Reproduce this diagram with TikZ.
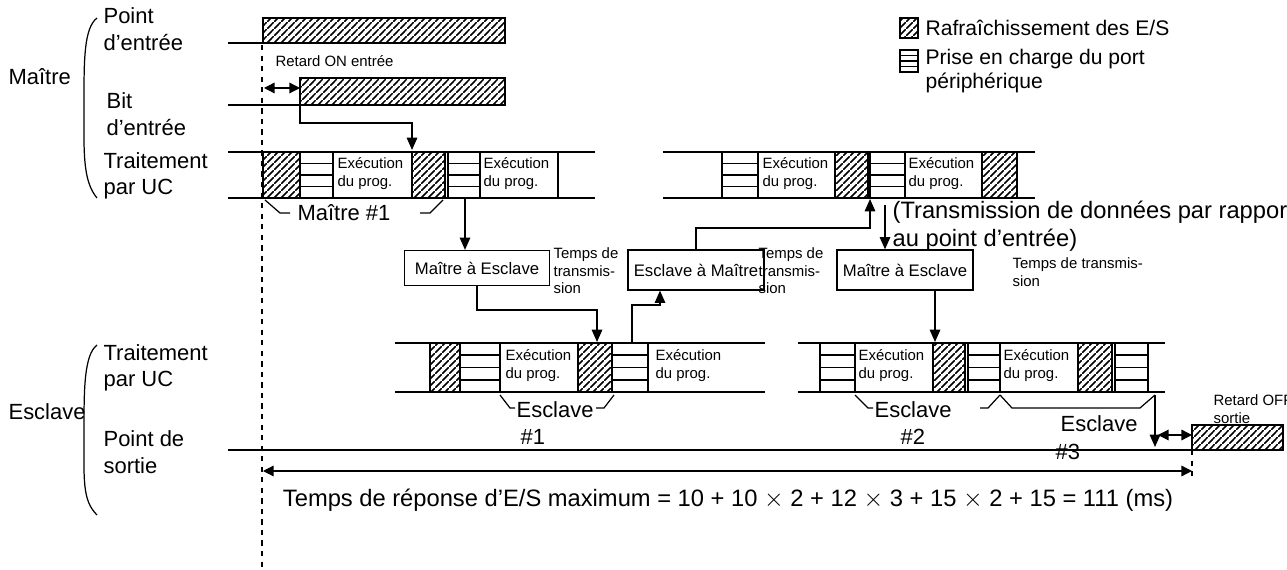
\documentclass[tikz,border=0pt]{standalone}
\usepackage{fontspec}
\setmainfont{Liberation Sans}
\usetikzlibrary{arrows.meta,patterns.meta}
\tikzdeclarepattern{name=thickhatch,type=uncolored,bounding box={(0,0) and (4pt,4pt)},tile size={(4pt,4pt)},
  code={\draw[line width=1pt] (-1pt,-1pt) -- (5pt,5pt);}}
\tikzset{
    hatch/.style = {draw, line width=0.9pt, pattern=thickhatch},
    port/.style = {draw, line width=0.9pt},
    box/.style = {draw, rectangle, align=center, font=\fontsize{9.5}{11}\selectfont},
    lbl/.style = {align=left, anchor=west, font=\fontsize{12.5}{15}\selectfont, inner sep=0pt},
    big/.style = {lbl, font=\fontsize{13.5}{16}\selectfont},
    legend/.style = {lbl, font=\fontsize{12}{14}\selectfont},
    small/.style = {align=left, anchor=north west, font=\fontsize{8.5}{10}\selectfont, inner sep=0pt},
    arrow/.style = {draw, -{Triangle[length=7pt,width=6pt]}},
    dbl/.style = {draw, {Triangle[length=6pt,width=6pt]}-{Triangle[length=6pt,width=6pt]}}
}
% hatched slot
\newcommand{\refresh}[4]{\draw[hatch] (#1,#3) rectangle (#2,#4);}
% peripheral port slot
\newcommand{\pport}[4]{\draw[port] (#1,#3) rectangle (#2,#4);
  \foreach \k in {1,2,3} \draw[port] (#1,{#3+\k*(#4-#3)/4}) -- (#2,{#3+\k*(#4-#3)/4});}
\begin{document}
\begin{tikzpicture}[x=0.02cm,y=-0.02cm,line width=0.7pt]
    \useasboundingbox (0,0) rectangle (1287,570);
    % left labels
    \node[lbl] (master) at (8,77) {Maître};
    \node[lbl] (slave) at (8,412) {Esclave};
    \draw (97,18) .. controls (84,28) and (84,60) .. (84,100) .. controls (84,150) and (82,180) .. (97,198);
    \draw (97,345) .. controls (84,355) and (84,390) .. (84,430) .. controls (84,480) and (82,500) .. (97,515);
    \node[lbl] (inpt) at (103,29) {Point\\d'entrée};
    \node[lbl] (ibit) at (106,114) {Bit\\d'entrée};
    \node[lbl] (mcpu) at (103,176) {Traitement\\par UC};
    \node[lbl] (scpu) at (103,368) {Traitement\\par UC};
    \node[lbl] (outp) at (103,452) {Point de\\sortie};
    % legend
    \refresh{900}{918}{18}{38}
    \node[legend] (lg1) at (925,28) {Rafraîchissement des E/S};
    \pport{900}{918}{50}{72}
    \node[legend] (lg2) at (925,71) {Prise en charge du port\\périphérique};
    % input point and input bit
    \draw (228,43) -- (263,43);
    \refresh{263}{505}{18}{43}
    \draw (228,105) -- (300,105);
    \refresh{300}{505}{78}{105}
    \draw[dashed] (262,45) -- (262,570);
    \draw[dbl] (264,88) -- (300,88);
    \node[small] (ondly) at (275,55) {Retard ON entrée};
    \coordinate (bitc) at (300,105);
    % master CPU 1
    \draw (228,152) -- (595,152) (228,198) -- (595,198);
    \refresh{263}{300}{152}{198} \pport{300}{333}{152}{198}
    \refresh{412}{445}{152}{198} \pport{448}{480}{152}{198}
    \draw (558,152) -- (558,198);
    \node[small] (ex1) at (337,157) {Exécution\\du prog.};
    \node[small] (ex2) at (483,157) {Exécution\\du prog.};
    \draw[arrow] (bitc) |- (412,123) -- (412,150);
    \draw (265,200) -- (280,213) -- (290,213) (420,213) -- (430,213) -- (443,200);
    \node[lbl] (m1) at (297,213) {Maître \#1};
    % master CPU 2
    \draw (663,152) -- (1035,152) (663,198) -- (1035,198);
    \pport{722}{758}{152}{198} \refresh{835}{868}{152}{198}
    \pport{870}{905}{152}{198} \refresh{982}{1017}{152}{198}
    \node[small] (ex3) at (762,157) {Exécution\\du prog.};
    \node[small] (ex4) at (908,157) {Exécution\\du prog.};
    % transmission boxes
    \node[box, minimum width=2.9cm, minimum height=0.7cm] (ms1) at (477,268) {Maître à Esclave};
    \node[small] (tt1) at (553,247) {Temps de\\transmis-\\sion};
    \node[box, minimum width=2.3cm, minimum height=0.8cm] (sm) at (696,270) {Esclave à Maître};
    \node[small] (tt2) at (758,247) {Temps de\\transmis-\\sion};
    \node[box, minimum width=2.4cm, minimum height=0.8cm] (ms2) at (905,270) {Maître à Esclave};
    \node[small] (tt3) at (1012,257) {Temps de transmis-\\sion};
    \draw[arrow] (465,198) -- (ms1.north -| 465,0);
    \draw[arrow] (sm.north) |- (870,228) -- (870,199);
    \draw[arrow] (885,205) -- (ms2.north -| 885,0);
    \node[big] (trx) at (892,226) {(Transmission de données par rapport\\au point d'entrée)};
    % slave CPU 1
    \draw (395,343) -- (765,343) (395,392) -- (765,392);
    \refresh{430}{460}{343}{392} \pport{460}{500}{343}{392}
    \refresh{578}{612}{343}{392} \pport{612}{648}{343}{392}
    \node[small] (ex5) at (505,349) {Exécution\\du prog.};
    \node[small] (ex6) at (655,349) {Exécution\\du prog.};
    \draw[arrow] (ms1.south) |- (597,310) -- (597,342);
    \draw[arrow] (632,343) |- (660,305) -- (sm.south -| 660,0);
    \draw (500,395) -- (510,408) -- (515,408) (596,408) -- (604,408) -- (614,395);
    \node[lbl] (s1) at (516,410) {Esclave};
    \node[lbl] (s1n) at (520,437) {\#1};
    % slave CPU 2
    \draw (798,343) -- (1165,343) (798,392) -- (1165,392);
    \pport{820}{855}{343}{392} \refresh{933}{965}{343}{392}
    \pport{968}{1000}{343}{392} \refresh{1078}{1112}{343}{392}
    \pport{1115}{1148}{343}{392}
    \node[small] (ex7) at (858,349) {Exécution\\du prog.};
    \node[small] (ex8) at (1003,349) {Exécution\\du prog.};
    \draw[arrow] (ms2.south -| 935,0) -- (935,342);
    \draw (855,395) -- (868,408) -- (873,408) (980,408) -- (988,408) -- (1000,395);
    \node[lbl] (s2) at (874,410) {Esclave};
    \node[lbl] (s2n) at (900,437) {\#2};
    \draw (1000,395) -- (1012,408) -- (1140,408) -- (1155,395);
    \node[lbl] (s3) at (1060,424) {Esclave};
    \node[lbl] (s3n) at (1055,452) {\#3};
    \draw[arrow] (1155,395) -- (1155,447);
    % output point
    \draw (228,450) -- (1192,450);
    \refresh{1192}{1283}{425}{450}
    \draw[dbl] (1158,435) -- (1192,435);
    \node[small] (offdly) at (1213,394) {Retard OFF\\sortie};
    \draw[dashed] (1192,450) -- (1192,478);
    \draw[dbl] (263,471) -- (1192,471);
    \node[big, anchor=center] (resp) at (728,500) {Temps de réponse d'E/S maximum = 10 + 10 $\times$ 2 + 12 $\times$ 3 + 15 $\times$ 2 + 15 = 111 (ms)};
\end{tikzpicture}
\end{document}
